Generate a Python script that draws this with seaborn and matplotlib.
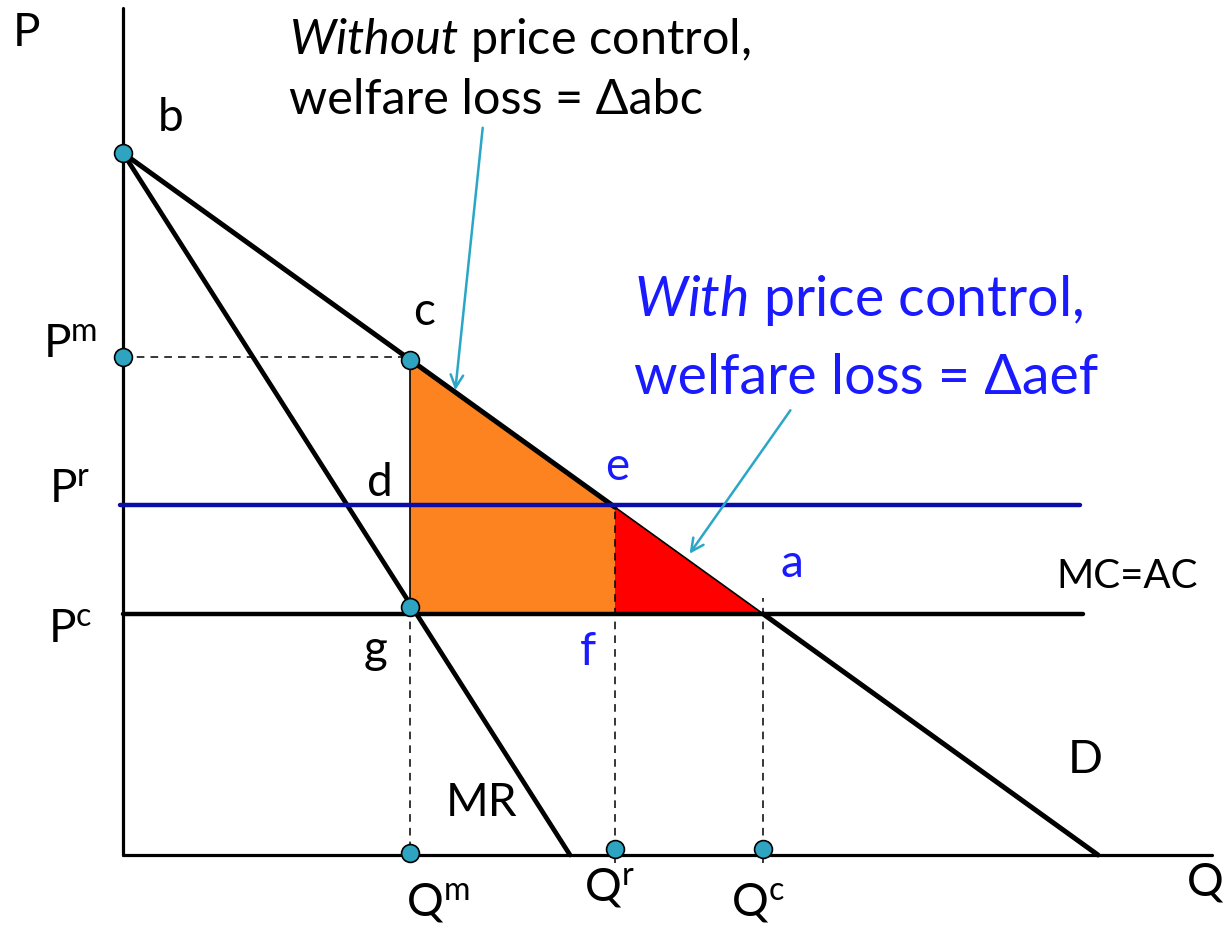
import numpy as np
import pandas as pd
import matplotlib.pyplot as plt
import seaborn as sns

# chart values (units ~ pixels, origin at the axes corner)
p_max = 702          # demand / MR intercept on the price axis (point b)
q_demand_end = 975   # demand hits the quantity axis
q_mr_end = 447       # MR hits the quantity axis
p_m, p_r, p_c = 498, 350, 241
q_m, q_r, q_c = 287, 492, 640
p_axis_top = 847
q_axis_end = 1089
pc_line_end = 960
pr_line_start, pr_line_end = -3, 957

price_labels = ['m', 'r', 'c']
qty_labels = ['m', 'r', 'c']


def demand(q):
    return p_max * (1 - q / q_demand_end)


sns.set_style("white")
plt.rcParams['font.family'] = ['Lato', 'DejaVu Sans']
plt.rcParams['text.color'] = 'black'
plt.rcParams['mathtext.fontset'] = 'custom'
plt.rcParams['mathtext.rm'] = 'Lato'
plt.rcParams['mathtext.it'] = 'Lato:italic'

fig = plt.figure(figsize=(12.25, 9.32), dpi=100)
ax = fig.add_axes([0, 0, 1, 1])
ax.set_xlim(-123, 1102)
ax.set_ylim(-77, 855)
ax.axis('off')

teal = '#2fa4c1'
blue_line = '#0c0ca6'
blue_txt = '#1a1aff'

# axes
ax.plot([0, 0], [0, p_axis_top], color='black', lw=2.3, zorder=2)
ax.plot([0, q_axis_end], [0, 0], color='black', lw=2.3, zorder=2)

# shaded areas
ax.fill([q_m, q_m, q_r, q_r], [demand(q_m), p_c, p_c, demand(q_r)],
        color='#fd8320', lw=0, zorder=1)
ax.fill([q_r, q_r, q_c], [demand(q_r), p_c, demand(q_c)],
        color='#ff0000', lw=0, zorder=1)

# demand curve: thick, except the hypotenuse of the red triangle
d_top = pd.DataFrame({'Q': [0, q_r], 'P': [p_max, demand(q_r)]})
d_mid = pd.DataFrame({'Q': [q_r, q_c], 'P': [demand(q_r), demand(q_c)]})
d_low = pd.DataFrame({'Q': [q_c, q_demand_end], 'P': [demand(q_c), 0]})
for seg, w in [(d_top, 3.6), (d_mid, 1.2), (d_low, 3.6)]:
    sns.lineplot(data=seg, x='Q', y='P', color='black', lw=w, ax=ax,
                 zorder=3, sort=False)

mr_df = pd.DataFrame({'Q': [0, q_mr_end], 'P': [p_max, 0]})
sns.lineplot(data=mr_df, x='Q', y='P', color='black', lw=3.4, ax=ax, zorder=3)

# price lines
ax.plot([0, pc_line_end], [p_c, p_c], color='black', lw=3.2, zorder=2)
ax.plot([pr_line_start, pr_line_end], [p_r, p_r], color=blue_line, lw=3.2, zorder=4)

# guide lines
dash = (0, (5, 4))
ax.plot([q_m, q_m], [p_c, demand(q_m)], color='black', lw=1.2, zorder=2)
ax.plot([0, q_m], [p_m, p_m], color='black', lw=1.1, ls=dash, zorder=2)
ax.plot([q_m, q_m], [-8, p_c], color='black', lw=1.1, ls=dash, zorder=2)
ax.plot([q_r, q_r], [-8, p_r], color='black', lw=1.1, ls=dash, zorder=2)
ax.plot([q_c, q_c], [-8, p_c + 16], color='black', lw=1.1, ls=dash, zorder=2)

# points
pts = pd.DataFrame({
    'Q': [0, 0, q_m, q_m, q_m, q_r, q_c],
    'P': [p_max, p_m, demand(q_m), p_c + 7, 2, 6, 6],
})
sns.scatterplot(data=pts, x='Q', y='P', s=165, color=teal, edgecolor='black',
                linewidth=1.2, ax=ax, zorder=6, legend=False)

# arrows
arrow_kw = dict(arrowstyle='->,head_length=0.9,head_width=0.45', color='#2aa6c6', lw=1.8)
ax.annotate('', xy=(332, 462), xytext=(360, 730), arrowprops=arrow_kw, zorder=7)
ax.annotate('', xy=(565, 299), xytext=(669, 447), arrowprops=arrow_kw, zorder=7)

fs = 33
# axis letters and point labels
ax.text(-97, 822, 'P', fontsize=fs, ha='center', va='center')
ax.text(1101, -27, 'Q', fontsize=fs, ha='right', va='center')
ax.text(48, 737, 'b', fontsize=fs, ha='center', va='center')
ax.text(301, 543, 'c', fontsize=fs, ha='center', va='center')
ax.text(257, 372, 'd', fontsize=fs, ha='center', va='center')
ax.text(253, 205, 'g', fontsize=fs, ha='center', va='center')
ax.text(494, 388, 'e', fontsize=fs, ha='center', va='center', color=blue_txt)
ax.text(669, 291, 'a', fontsize=fs, ha='center', va='center', color=blue_txt)
ax.text(465, 203, 'f', fontsize=fs, ha='center', va='center', color=blue_txt)
ax.text(1004, 278, 'MC=AC', fontsize=29, ha='center', va='center')
ax.text(962, 95, 'D', fontsize=fs, ha='center', va='center')
ax.text(359, 52, 'MR', fontsize=fs, ha='center', va='center')

for lab, y in zip(price_labels, [510, 365, 225]):
    ax.text(-53, y, 'P$^{\\mathregular{%s}}$' % lab, fontsize=fs, ha='center', va='center')
for lab, x, y in zip(qty_labels, [q_m + 28, q_r - 6, q_c - 5], [-48, -33, -48]):
    ax.text(x, y, 'Q$^{\\mathregular{%s}}$' % lab, fontsize=fs, ha='center', va='center')

# captions
ax.text(166, 815, '$\\mathit{Without}$ price control,', fontsize=35, ha='left', va='center')
ax.text(166, 755, 'welfare loss = Δabc', fontsize=35, ha='left', va='center')
ax.text(511, 555, '$\\mathit{With}$ price control,', fontsize=40, ha='left',
        va='center', color=blue_txt)
ax.text(511, 477, 'welfare loss = Δaef', fontsize=40, ha='left', va='center',
        color=blue_txt)

plt.savefig('out.png', dpi=100)
